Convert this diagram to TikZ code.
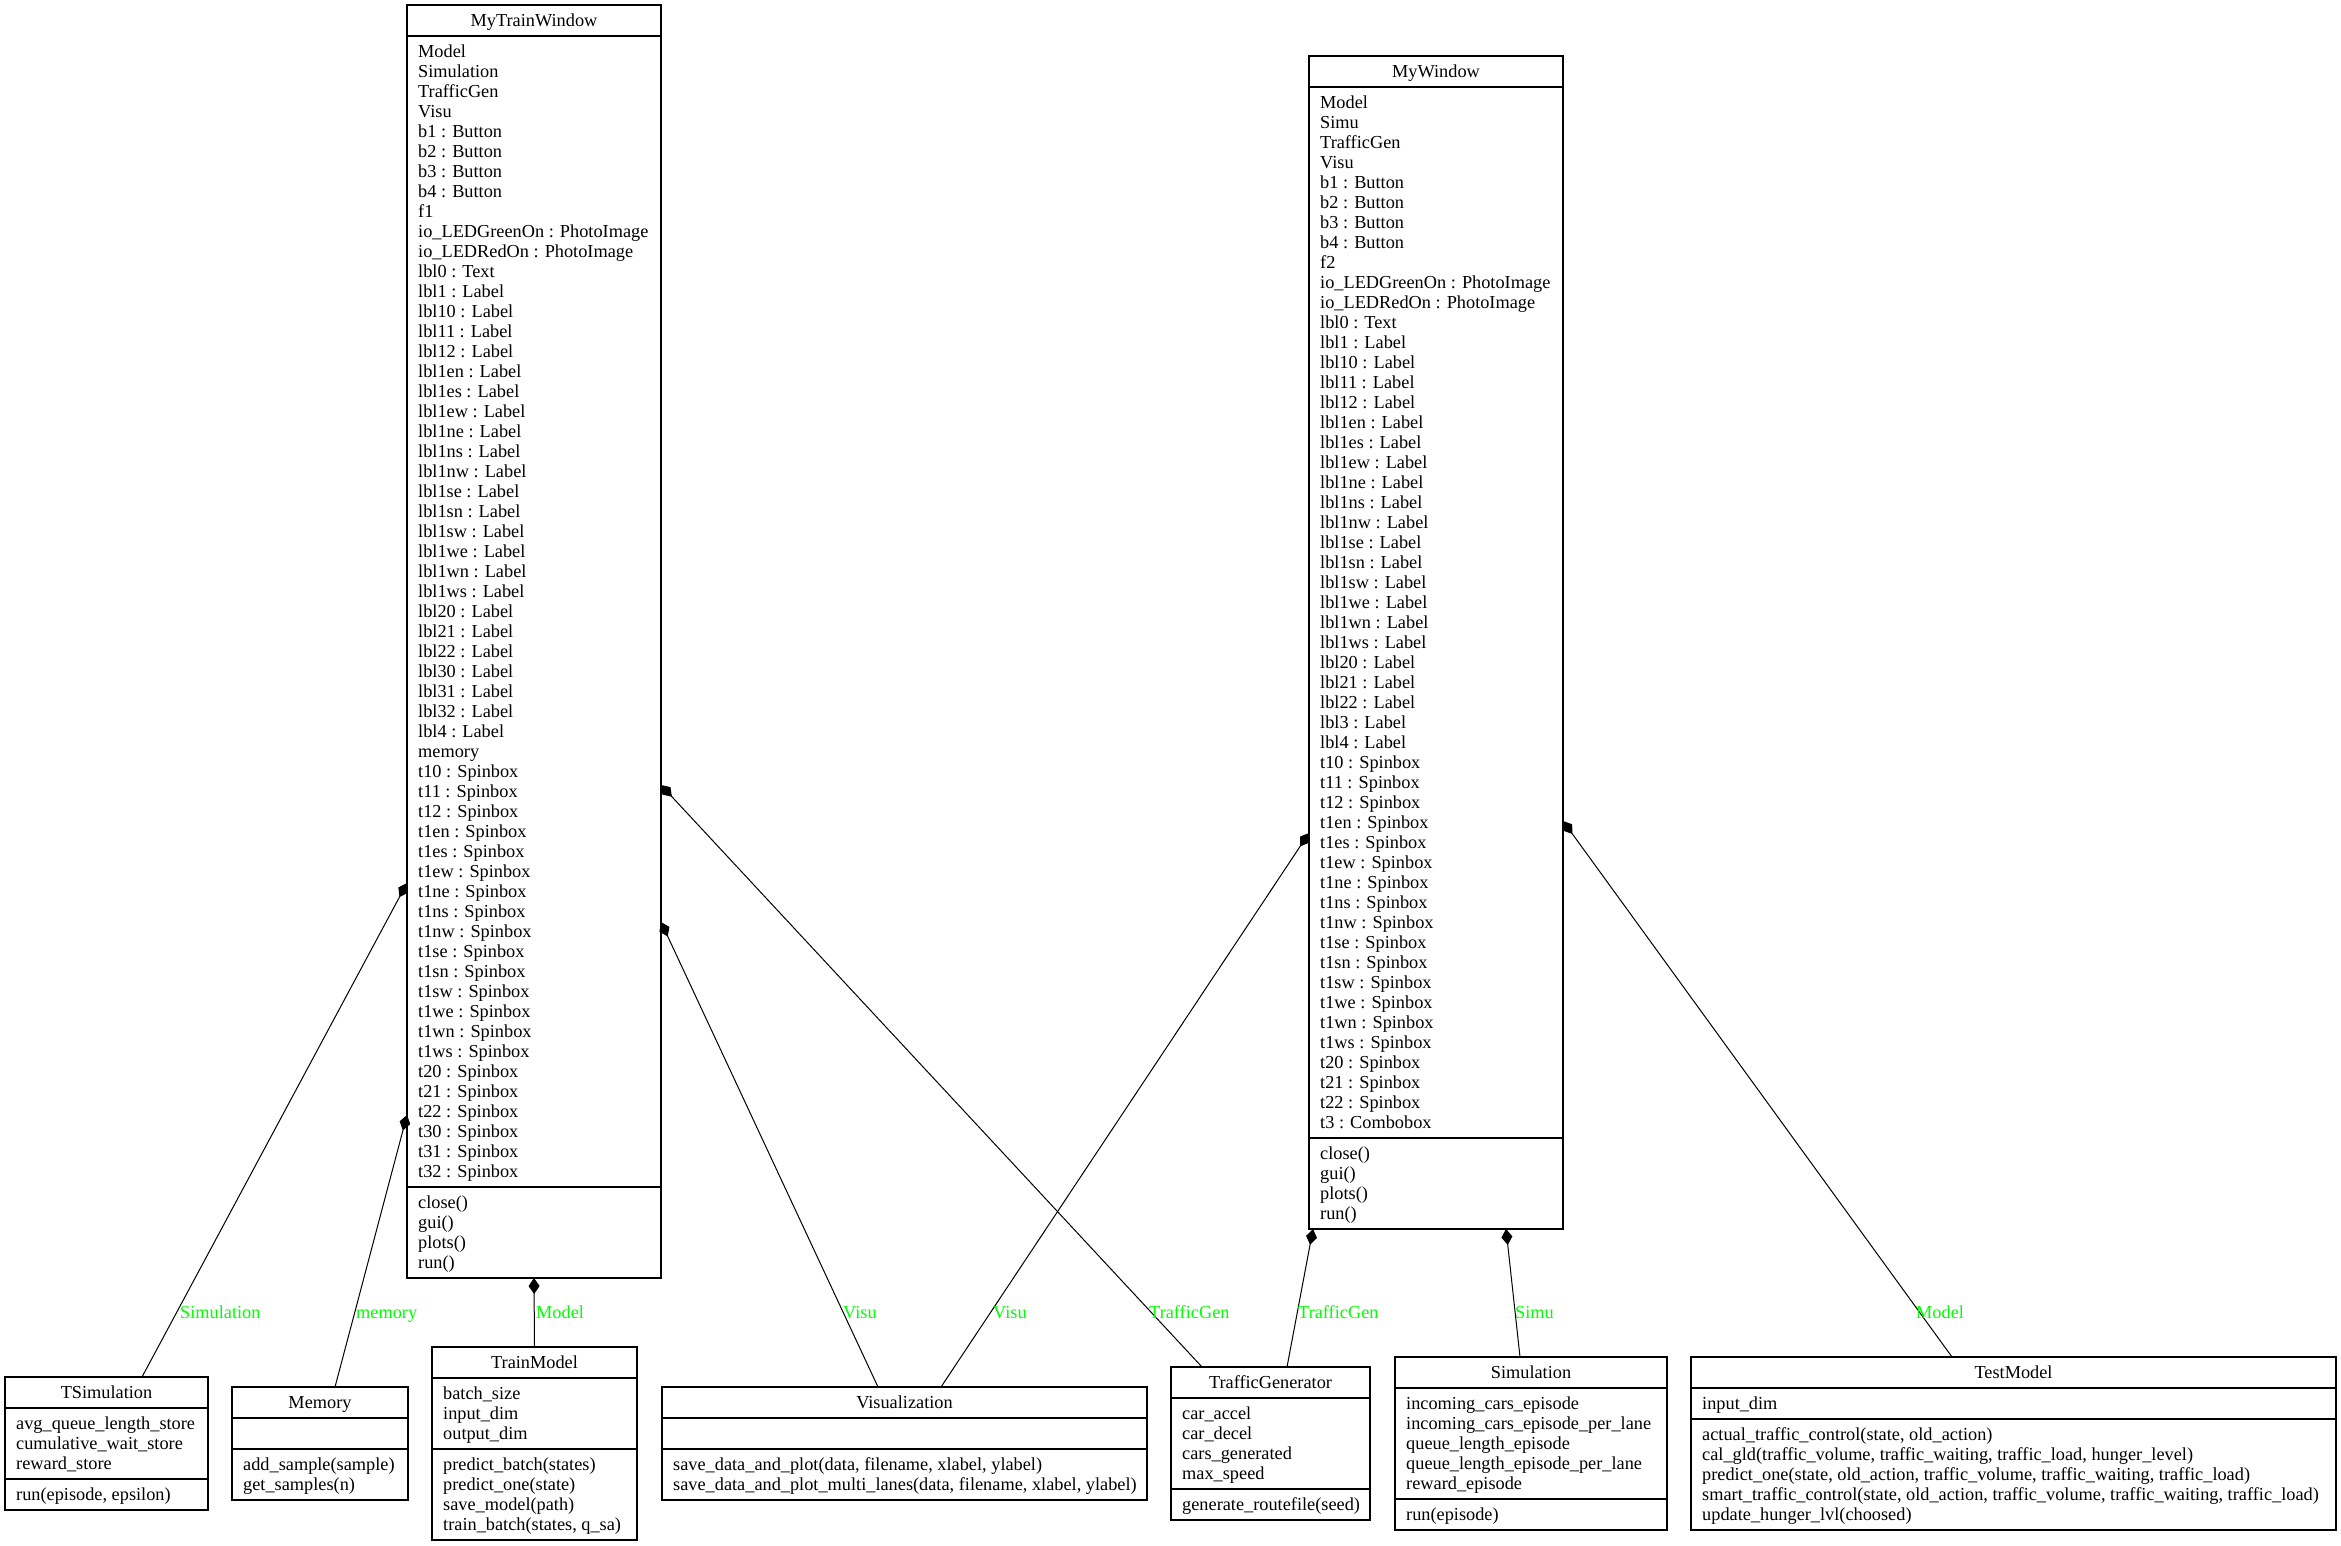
\documentclass[tikz,border=0pt]{standalone}
\usepackage{fontspec}
\setmainfont{Liberation Serif}
\usetikzlibrary{arrows.meta}

\definecolor{labelgreen}{RGB}{0,255,0}
\newcommand{\classfont}{\fontsize{18.3}{20}\selectfont}
\newcommand{\firstline}{\rule{0pt}{15pt}}

\tikzset{
  classframe/.style={draw, line width=1.2pt, inner sep=0pt, outer sep=0pt},
  classrule/.style={line width=1.2pt},
  classtitle/.style={anchor=base, inner sep=0pt, font=\classfont},
  classlist/.style={anchor=north west, align=left, inner sep=0pt, font=\classfont},
  elabel/.style={anchor=base west, inner sep=0pt, font=\classfont, text=labelgreen},
  comp/.style={draw, line width=1pt, arrows={Diamond[length=16pt,width=11pt]-}}
}

% #1 id, #2 left, #3 top, #4 width, #5 class name,
% #6 attribute lines, #7 attributes, #8 operation lines, #9 operations
\newcommand{\umlclass}[9]{%
  \pgfmathsetmacro\clsYa{#3+31}%
  \pgfmathsetmacro\clsYb{\clsYa+20*#6+11}%
  \pgfmathsetmacro\clsYc{\clsYb+20*#8+11}%
  \pgfmathsetmacro\clsH{\clsYc-#3}%
  \pgfmathsetmacro\clsMid{#2+#4/2}%
  \node[classframe, minimum width=#4pt, minimum height=\clsH pt, anchor=north west] (#1) at (#2,#3) {};
  \draw[classrule] (#1.west |- 0,\clsYa) -- (#1.east |- 0,\clsYa);
  \draw[classrule] (#1.west |- 0,\clsYb) -- (#1.east |- 0,\clsYb);
  \node[classtitle] (#1-name) at (\clsMid,#3+21) {#5};
  \node[classlist] (#1-attr) at (#2+11,\clsYa+6) {\firstline#7};
  \node[classlist] (#1-oper) at (#2+11,\clsYb+6) {\firstline#9};
}

\begin{document}
\begin{tikzpicture}[x=1pt, y=-1pt]
\fill[white] (0,0) rectangle (2341,1545);
\useasboundingbox (0,0) rectangle (2341,1545);

% training window
\umlclass{mtw}{407}{5}{254}{MyTrainWindow}{57}{Model\\Simulation\\TrafficGen\\Visu\\b1 : Button\\b2 : Button\\b3 : Button\\b4 : Button\\f1\\io\_LEDGreenOn : PhotoImage\\io\_LEDRedOn : PhotoImage\\lbl0 : Text\\lbl1 : Label\\lbl10 : Label\\lbl11 : Label\\lbl12 : Label\\lbl1en : Label\\lbl1es : Label\\lbl1ew : Label\\lbl1ne : Label\\lbl1ns : Label\\lbl1nw : Label\\lbl1se : Label\\lbl1sn : Label\\lbl1sw : Label\\lbl1we : Label\\lbl1wn : Label\\lbl1ws : Label\\lbl20 : Label\\lbl21 : Label\\lbl22 : Label\\lbl30 : Label\\lbl31 : Label\\lbl32 : Label\\lbl4 : Label\\memory\\t10 : Spinbox\\t11 : Spinbox\\t12 : Spinbox\\t1en : Spinbox\\t1es : Spinbox\\t1ew : Spinbox\\t1ne : Spinbox\\t1ns : Spinbox\\t1nw : Spinbox\\t1se : Spinbox\\t1sn : Spinbox\\t1sw : Spinbox\\t1we : Spinbox\\t1wn : Spinbox\\t1ws : Spinbox\\t20 : Spinbox\\t21 : Spinbox\\t22 : Spinbox\\t30 : Spinbox\\t31 : Spinbox\\t32 : Spinbox}{4}{close()\\gui()\\plots()\\run()}

% test window
\umlclass{mw}{1309}{56}{254}{MyWindow}{52}{Model\\Simu\\TrafficGen\\Visu\\b1 : Button\\b2 : Button\\b3 : Button\\b4 : Button\\f2\\io\_LEDGreenOn : PhotoImage\\io\_LEDRedOn : PhotoImage\\lbl0 : Text\\lbl1 : Label\\lbl10 : Label\\lbl11 : Label\\lbl12 : Label\\lbl1en : Label\\lbl1es : Label\\lbl1ew : Label\\lbl1ne : Label\\lbl1ns : Label\\lbl1nw : Label\\lbl1se : Label\\lbl1sn : Label\\lbl1sw : Label\\lbl1we : Label\\lbl1wn : Label\\lbl1ws : Label\\lbl20 : Label\\lbl21 : Label\\lbl22 : Label\\lbl3 : Label\\lbl4 : Label\\t10 : Spinbox\\t11 : Spinbox\\t12 : Spinbox\\t1en : Spinbox\\t1es : Spinbox\\t1ew : Spinbox\\t1ne : Spinbox\\t1ns : Spinbox\\t1nw : Spinbox\\t1se : Spinbox\\t1sn : Spinbox\\t1sw : Spinbox\\t1we : Spinbox\\t1wn : Spinbox\\t1ws : Spinbox\\t20 : Spinbox\\t21 : Spinbox\\t22 : Spinbox\\t3 : Combobox}{4}{close()\\gui()\\plots()\\run()}

% bottom row
\umlclass{tsim}{5}{1377}{203}{TSimulation}{3}{avg\_queue\_length\_store\\cumulative\_wait\_store\\reward\_store}{1}{run(episode, epsilon)}
\umlclass{mem}{232}{1387}{176}{Memory}{1}{}{2}{add\_sample(sample)\\get\_samples(n)}
\umlclass{tm}{432}{1347}{205}{TrainModel}{3}{batch\_size\\input\_dim\\output\_dim}{4}{predict\_batch(states)\\predict\_one(state)\\save\_model(path)\\train\_batch(states, q\_sa)}
\umlclass{vis}{662}{1387}{485}{Visualization}{1}{}{2}{save\_data\_and\_plot(data, filename, xlabel, ylabel)\\save\_data\_and\_plot\_multi\_lanes(data, filename, xlabel, ylabel)}
\umlclass{tg}{1171}{1367}{199}{TrafficGenerator}{4}{car\_accel\\car\_decel\\cars\_generated\\max\_speed}{1}{generate\_routefile(seed)}
\umlclass{sim}{1395}{1357}{272}{Simulation}{5}{incoming\_cars\_episode\\incoming\_cars\_episode\_per\_lane\\queue\_length\_episode\\queue\_length\_episode\_per\_lane\\reward\_episode}{1}{run(episode)}
\umlclass{test}{1691}{1357}{645}{TestModel}{1}{input\_dim}{5}{actual\_traffic\_control(state, old\_action)\\cal\_gld(traffic\_volume, traffic\_waiting, traffic\_load, hunger\_level)\\predict\_one(state, old\_action, traffic\_volume, traffic\_waiting, traffic\_load)\\smart\_traffic\_control(state, old\_action, traffic\_volume, traffic\_waiting, traffic\_load)\\update\_hunger\_lvl(choosed)}

% composition connectors
\draw[comp] (mtw.west |- 0,883) -- (tsim.north -| 142,0);
\draw[comp] (mtw.west |- 0,1115) -- (mem.north -| 335,0);
\draw[comp] (mtw.south) -- (tm.north);
\draw[comp] (mtw.east |- 0,922) -- (vis.north -| 878,0);
\draw[comp] (mtw.east |- 0,785) -- (tg.north -| 1202,0);
\draw[comp] (mw.west |- 0,833) -- (vis.north -| 941,0);
\draw[comp] (mw.south -| 1313,0) -- (tg.north -| 1287,0);
\draw[comp] (mw.south -| 1506,0) -- (sim.north -| 1520,0);
\draw[comp] (mw.east |- 0,821) -- (test.north -| 1952,0);

% role labels
\node[elabel] (lab-sim) at (180,1318) {Simulation};
\node[elabel] (lab-mem) at (356,1318) {memory};
\node[elabel] (lab-tm) at (536,1318) {Model};
\node[elabel] (lab-vis1) at (843,1318) {Visu};
\node[elabel] (lab-vis2) at (993,1318) {Visu};
\node[elabel] (lab-tg1) at (1149,1318) {TrafficGen};
\node[elabel] (lab-tg2) at (1298,1318) {TrafficGen};
\node[elabel] (lab-simu) at (1515,1318) {Simu};
\node[elabel] (lab-test) at (1916,1318) {Model};
\end{tikzpicture}
\end{document}
